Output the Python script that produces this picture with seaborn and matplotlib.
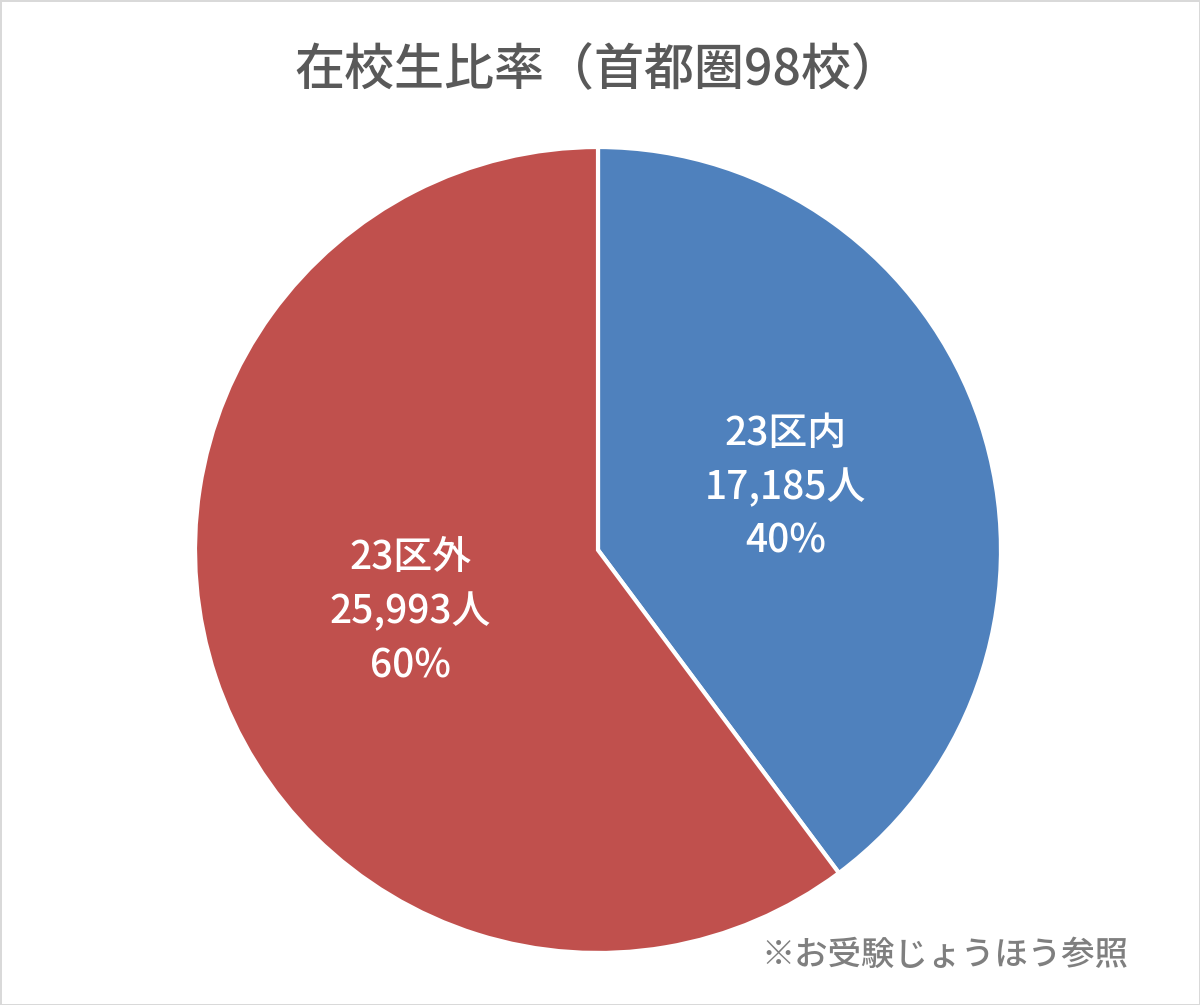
import matplotlib
matplotlib.use("Agg")
import matplotlib.pyplot as plt
import seaborn as sns
import numpy as np

sns.set_theme(style="white")
plt.rcParams['font.family'] = ['Noto Sans CJK JP', 'DejaVu Sans']

categories = ["23区内", "23区外"]
students = [17185, 25993]
percent_labels = ["40%", "60%"]
colors = ["#4F81BD", "#C0504D"]
title = "在校生比率（首都圏98校）"
source_note = "※お受験じょうほう参照"

fig = plt.figure(figsize=(12, 10.05), dpi=100)
fig.patch.set_facecolor("white")
fig.patch.set_edgecolor("#D9D9D9")
fig.patch.set_linewidth(2)

# pie center (598,550) px, radius ~403 px
cx, cy, r = 598 / 1200, 1 - 550 / 1005, 406
w = 2 * r / 1200
h = 2 * r / 1005
ax = fig.add_axes([cx - w / 2, cy - h / 2, w, h])

labels = [f"{c}\n{v:,}人\n{p}" for c, v, p in zip(categories, students, percent_labels)]
wedges, texts = ax.pie(
    students, colors=colors, startangle=90, counterclock=False,
    labels=labels, labeldistance=0.49,
    wedgeprops=dict(edgecolor="white", linewidth=3),
    textprops=dict(color="white", fontsize=28, fontweight="medium", linespacing=1.45),
)
for t in texts:
    t.set_ha("center")
    t.set_va("center")
ax.set_xlim(-1.0075, 1.0075)
ax.set_ylim(-1.0075, 1.0075)
ax.set_aspect("equal")

fig.text(598 / 1200, 1 - 71 / 1005, title, ha="center", va="center",
         fontsize=36, fontweight="medium", color="#595959")
fig.text(1128 / 1200, 1 - 955 / 1005, source_note, ha="right", va="center",
         fontsize=24, fontweight="medium", color="#7F7F7F")

fig.savefig("out.png", dpi=100, facecolor=fig.get_facecolor(), edgecolor=fig.get_edgecolor())
